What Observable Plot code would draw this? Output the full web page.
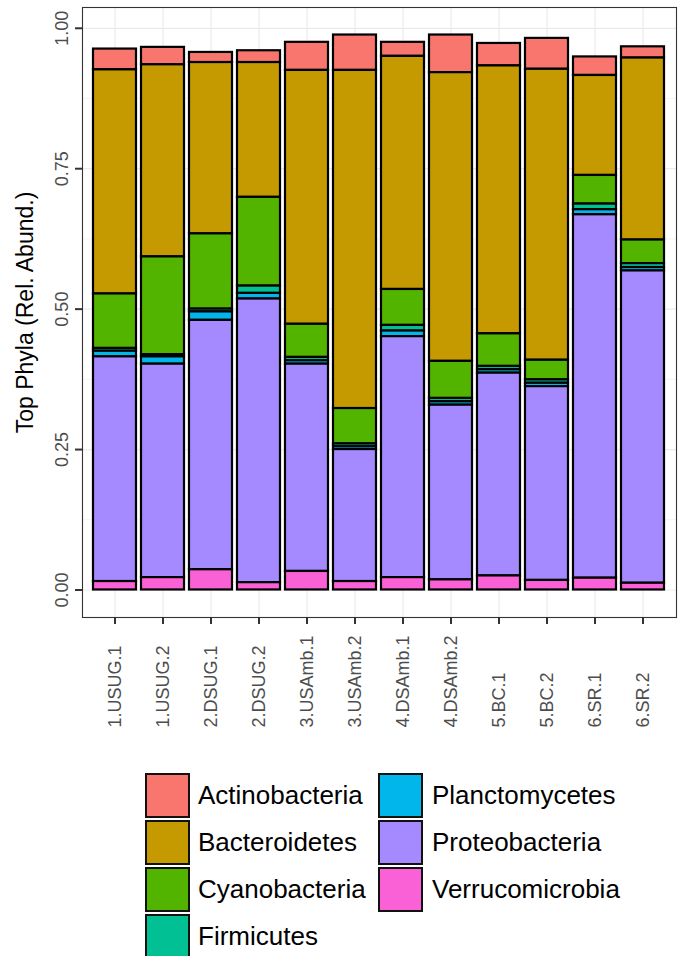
<!DOCTYPE html>
<html>
<head>
<meta charset="utf-8">
<script src="https://cdn.jsdelivr.net/npm/d3@7"></script>
<script src="https://cdn.jsdelivr.net/npm/@observablehq/plot@0.6"></script>
<style>
  html, body { margin: 0; padding: 0; background: #fff; }
  body { width: 683px; height: 956px; overflow: hidden; position: relative; font-family: "Liberation Sans", Arial, Helvetica, sans-serif; }
  #legend { position: absolute; left: 0; top: 0; width: 683px; }
  .key { position: absolute; width: 45px; height: 45px; box-sizing: border-box; border: 2.2px solid #111; }
  .lab { position: absolute; font-size: 26px; color: #000; line-height: 45px; height: 45px; white-space: nowrap; }
</style>
</head>
<body>
<div id="chart"></div>
<div id="legend"></div>
<script>
const samples = ["1.USUG.1","1.USUG.2","2.DSUG.1","2.DSUG.2","3.USAmb.1","3.USAmb.2","4.DSAmb.1","4.DSAmb.2","5.BC.1","5.BC.2","6.SR.1","6.SR.2"];
const phyla = ["Actinobacteria","Bacteroidetes","Cyanobacteria","Firmicutes","Planctomycetes","Proteobacteria","Verrucomicrobia"];
const colors = ["#F8766D","#C49A00","#53B400","#00C094","#00B6EB","#A58AFF","#FB61D7"];
const actinobacteria  = [0.037,0.031,0.018,0.021,0.050,0.063,0.025,0.067,0.040,0.055,0.033,0.020];
const bacteroidetes   = [0.399,0.342,0.305,0.240,0.452,0.602,0.415,0.514,0.477,0.518,0.178,0.324];
const cyanobacteria   = [0.097,0.174,0.134,0.158,0.059,0.063,0.064,0.066,0.058,0.035,0.051,0.042];
const firmicutes      = [0.005,0.004,0.005,0.013,0.006,0.005,0.010,0.006,0.006,0.006,0.010,0.007];
const planctomycetes  = [0.010,0.013,0.015,0.010,0.006,0.005,0.010,0.006,0.006,0.006,0.009,0.006];
const proteobacteria  = [0.400,0.380,0.444,0.505,0.369,0.235,0.429,0.311,0.361,0.345,0.647,0.556];
const verrucomicrobia = [0.015,0.022,0.036,0.013,0.033,0.015,0.022,0.018,0.025,0.017,0.021,0.012];
const yTicks = [0, 0.25, 0.5, 0.75, 1];
const yMinor = [0.125, 0.375, 0.625, 0.875];
const yTitle = "Top Phyla (Rel. Abund.)";

const series = [actinobacteria, bacteroidetes, cyanobacteria, firmicutes, planctomycetes, proteobacteria, verrucomicrobia];
const data = [];
phyla.forEach((p, j) => samples.forEach((s, i) => data.push({sample: s, phylum: p, value: series[j][i]})));
const stackOrder = phyla.slice().reverse();

const font = '"Liberation Sans", Arial, Helvetica, sans-serif';
const chart = Plot.plot({
  width: 683,
  height: 772,
  marginLeft: 82,
  marginRight: 7,
  marginTop: 7,
  marginBottom: 155,
  style: {fontFamily: font, background: "#fff", overflow: "visible"},
  x: {type: "band", domain: samples, paddingInner: 0.1, paddingOuter: 0.15, axis: null, label: null},
  y: {domain: [-0.049, 1.037], axis: null, label: null},
  color: {domain: phyla, range: colors},
  marks: [
    Plot.gridY(yMinor, {stroke: "#ebebeb", strokeOpacity: 1, strokeWidth: 0.6}),
    Plot.gridY(yTicks, {stroke: "#ebebeb", strokeOpacity: 1, strokeWidth: 1.2}),
    Plot.gridX(samples, {stroke: "#ebebeb", strokeOpacity: 1, strokeWidth: 1.2}),
    Plot.barY(data, Plot.stackY({order: stackOrder}, {x: "sample", y: "value", z: "phylum", fill: "phylum", stroke: "#000", strokeWidth: 2.2})),
    Plot.frame({stroke: "#333", strokeWidth: 1.1}),
    Plot.axisY({ticks: yTicks, tickSize: 7, tickFormat: () => "", label: null, stroke: "#333", strokeWidth: 2}),
    Plot.axisX({tickSize: 7, tickFormat: () => "", label: null, stroke: "#333", strokeWidth: 2}),
    Plot.text(yTicks, {y: d => d, text: d => d.toFixed(2), frameAnchor: "left", dx: -20, rotate: -90, textAnchor: "middle", lineAnchor: "middle", fontSize: 18, fill: "#4d4d4d"}),
    Plot.text(samples, {x: d => d, text: d => d, frameAnchor: "bottom", dy: 110, rotate: -90, textAnchor: "start", lineAnchor: "middle", fontSize: 18, fill: "#4d4d4d"}),
    Plot.text([yTitle], {text: d => d, frameAnchor: "left", dx: -57, rotate: -90, textAnchor: "middle", lineAnchor: "middle", fontSize: 23, fill: "#000"})
  ]
});
document.getElementById("chart").appendChild(chart);

// legend (two columns, column-major like ggplot)
const legend = document.getElementById("legend");
const rows = 4, top0 = 773, rowStep = 47;
const colKeyX = [145, 378], colTextX = [198, 432];
phyla.forEach((p, k) => {
  const c = Math.floor(k / rows), r = k % rows;
  const key = document.createElement("div");
  key.className = "key";
  key.style.left = colKeyX[c] + "px";
  key.style.top = (top0 + r * rowStep) + "px";
  key.style.background = colors[k];
  legend.appendChild(key);
  const lab = document.createElement("div");
  lab.className = "lab";
  lab.style.left = colTextX[c] + "px";
  lab.style.top = (top0 + r * rowStep) + "px";
  lab.textContent = p;
  legend.appendChild(lab);
});
</script>
</body>
</html>
